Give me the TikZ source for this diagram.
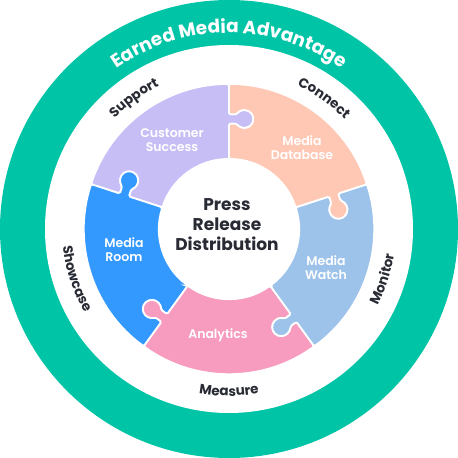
\documentclass[tikz,border=0pt]{standalone}
\usepackage{fontspec}
\setmainfont{Poppins}
\newfontfamily\semibold{Poppins SemiBold}
\usetikzlibrary{decorations.text}
\definecolor{emteal}{RGB}{0, 196, 166}
\definecolor{emdark}{RGB}{40, 42, 52}
\definecolor{emlilac}{RGB}{200, 190, 246}
\definecolor{empeach}{RGB}{255, 200, 181}
\definecolor{emsky}{RGB}{157, 195, 234}
\definecolor{empink}{RGB}{247, 156, 190}
\definecolor{emblue}{RGB}{51, 153, 255}

% one puzzle piece: tab on the edge at #1, slot on the edge at #1+72
\newcommand{\puzzlepiece}[2]{%
  \pgfmathsetmacro{\pb}{#1+72}%
  \filldraw[fill=#2, draw=white, line width=1.8pt, rounded corners=1.5pt]
    (#1:70) -- (#1:105.3) -- ++(#1-90:7.8)
    arc[start angle=#1+122, end angle=#1+418, radius=9]
    -- (#1:114.7) -- (#1:145) arc[start angle=#1, end angle=\pb, radius=145]
    -- (\pb:114.7) -- ++(\pb-90:7.8)
    arc[start angle=\pb+58, end angle=\pb-238, radius=9]
    -- (\pb:105.3) -- (\pb:70) arc[start angle=\pb, end angle=#1, radius=70] -- cycle;}

\begin{document}
\begin{tikzpicture}[scale=0.035146,
    piecelabel/.style={text=white, align=center, font=\semibold\fontsize{12.5}{14}\selectfont},
    ringtext/.style={decorate, decoration={text along path, text align=center, text color=emdark,
        text={|\bfseries\fontsize{13.5}{13.5}\selectfont|#1}}}]
\useasboundingbox (-229,-229) rectangle (229,229);
\fill[emteal] (0,0) circle[radius=229];
\fill[white] (0,0) circle[radius=184];
\path[decorate, decoration={text along path, text align=center, text color=white,
    text={|\bfseries\fontsize{18.5}{18.5}\selectfont|Earned Media Advantage}}]
    (160:196) arc[start angle=160, end angle=20, radius=196];

\puzzlepiece{90}{emlilac}
\puzzlepiece{162}{emblue}
\puzzlepiece{234}{empink}
\puzzlepiece{306}{emsky}
\puzzlepiece{18}{empeach}

\node[piecelabel] (success) at (-57,89) {Customer\\Success};
\node[piecelabel] (database) at (73,81) {Media\\Database};
\node[piecelabel] (room) at (-105,-21) {Media\\Room};
\node[piecelabel] (watch) at (97,-39) {Media\\Watch};
\node[piecelabel] (analytics) at (-11,-106) {Analytics};
\node[text=emdark, align=center, font=\bfseries\fontsize{17}{20}\selectfont] (press) at (-2,4)
    {Press\\Release\\Distribution};

% stage words in the white ring
\path[ringtext=Support] (170:159) arc[start angle=170, end angle=82, radius=159];
\path[ringtext=Connect] (98:159) arc[start angle=98, end angle=10, radius=159];
\path[ringtext=Monitor] (-62:167) arc[start angle=-62, end angle=26, radius=167];
\path[ringtext=Measure] (226:167) arc[start angle=226, end angle=314, radius=167];
\path[ringtext=Showcase] (154:167) arc[start angle=154, end angle=242, radius=167];
\end{tikzpicture}
\end{document}
